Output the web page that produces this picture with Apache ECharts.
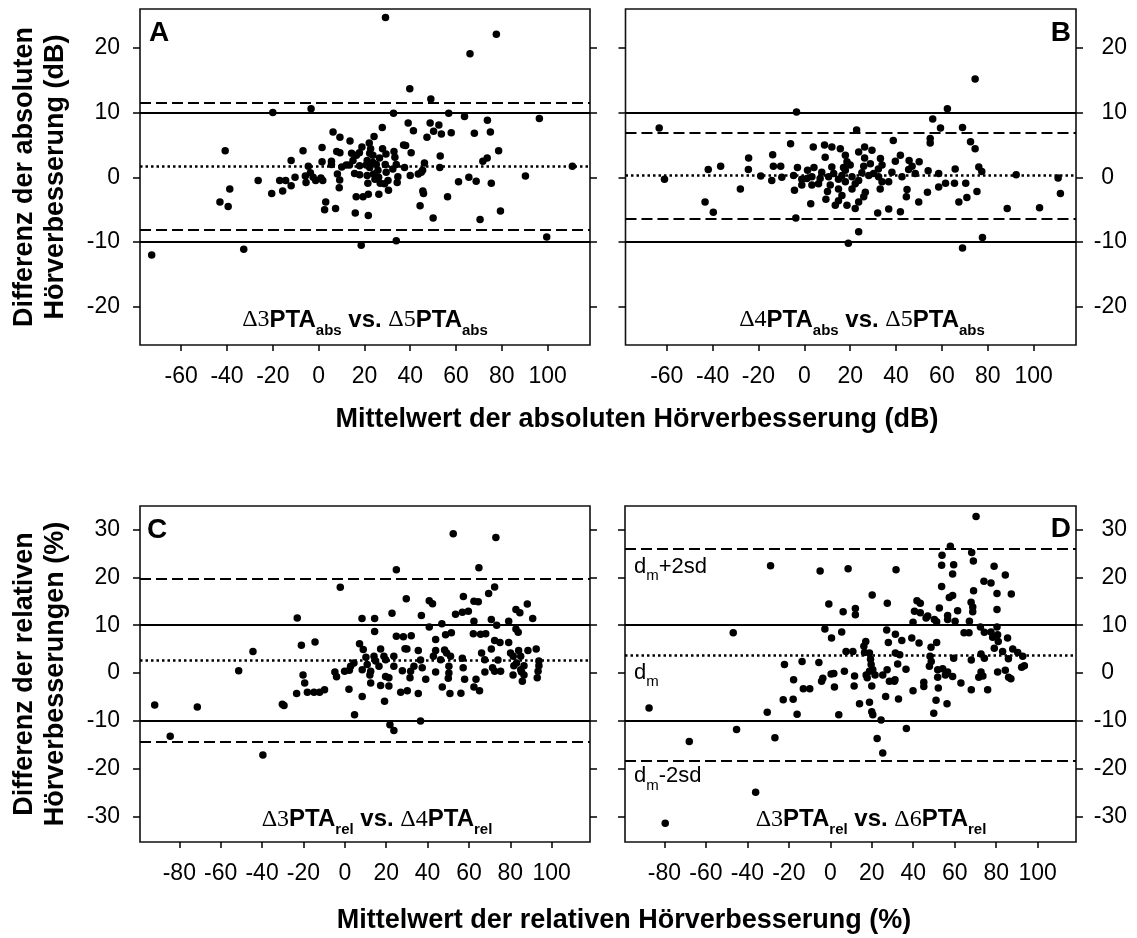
<!DOCTYPE html>
<html><head><meta charset="utf-8">
<script src="https://cdn.jsdelivr.net/npm/echarts@6/dist/echarts.min.js"></script>
<style>html,body{margin:0;padding:0;background:#fff}#c{width:1137px;height:938px}</style>
</head><body><div id="c"></div>
<script>
// ---- tick labels ----
const absXTicks = [-60, -40, -20, 0, 20, 40, 60, 80, 100];
const relXTicks = [-80, -60, -40, -20, 0, 20, 40, 60, 80, 100];
const absYTicks = [-20, -10, 0, 10, 20];
const relYTicks = [-30, -20, -10, 0, 10, 20, 30];

// ---- reference lines ----
const limitLines = [10, -10];
// [mean difference, mean + 2sd, mean - 2sd]
const statsA = [1.7, 11.5, -8.1];
const statsB = [0.26, 6.95, -6.4];
const statsC = [2.65, 19.8, -14.4];
const statsD = [3.77, 25.9, -18.4];

// ---- data: [mean, difference] ----
const pointsA = [[29.2,24.7],[77.6,22.1],[66.1,19.1],[39.8,13.7],[49.0,12.1],[-20.0,10.0],[-3.3,10.6],[32.7,9.9],[56.8,9.9],[63.7,9.4],[96.4,9.1],[39.1,8.4],[48.7,8.4],[52.5,8.1],[73.7,8.8],[27.8,7.7],[41.4,7.2],[50.2,7.1],[53.6,6.7],[57.9,6.9],[47.3,6.2],[68.0,6.8],[75.0,7.0],[6.3,7.0],[9.3,6.2],[13.7,5.6],[24.2,6.3],[1.5,4.6],[-6.8,4.1],[-40.8,4.1],[37.1,5.0],[38.0,4.9],[22.1,5.3],[18.9,4.7],[22.7,4.4],[27.9,4.4],[29.4,3.6],[32.9,4.0],[40.4,3.8],[7.9,4.0],[9.3,3.8],[14.4,3.7],[17.8,3.8],[78.6,4.1],[53.1,3.3],[33.3,3.1],[73.6,3.0],[71.7,2.5],[-12.0,2.6],[1.5,2.4],[5.6,2.5],[5.6,2.0],[13.5,1.9],[17.9,1.8],[20.8,1.9],[23.7,2.3],[25.2,2.0],[29.1,2.0],[33.9,2.0],[46.2,2.2],[110.8,1.7],[-4.5,1.7],[-3.6,0.7],[10.1,1.6],[22.3,1.5],[25.9,1.1],[37.5,1.5],[45.4,1.1],[52.9,1.5],[-10.3,0.0],[-5.8,0.2],[-2.4,0.0],[1.0,-0.1],[-26.4,-0.5],[-17.0,-0.5],[-14.4,-0.5],[-12.0,-1.3],[-15.7,-2.1],[-20.5,-2.5],[-5.5,-0.8],[-1.3,-0.5],[1.8,-0.5],[8.2,0.5],[9.2,-0.4],[9.0,-1.6],[15.7,0.6],[17.9,0.4],[21.2,0.3],[24.0,0.5],[26.2,0.0],[21.5,-0.9],[26.9,-0.9],[30.3,-0.5],[34.6,0.1],[34.3,-0.8],[40.0,0.3],[43.5,0.5],[44.8,0.8],[61.1,-0.7],[65.6,0.0],[68.8,-0.6],[75.4,-0.9],[90.3,0.2],[30.5,-2.0],[26.3,-2.6],[21.7,-2.6],[19.4,-3.0],[16.4,-3.0],[45.5,-2.1],[45.8,-2.5],[56.3,-3.0],[-38.8,-1.8],[-43.1,-3.8],[-39.5,-4.5],[3.1,-3.8],[2.6,-5.0],[7.4,-4.8],[16.0,-5.5],[21.7,-5.9],[44.3,-4.4],[50.0,-6.3],[70.5,-6.5],[79.4,-5.2],[99.6,-9.2],[18.6,-10.5],[33.9,-9.8],[-32.7,-11.1],[-72.9,-12.0],[16.5,3.4],[23.7,3.4],[26.6,3.0],[21.2,2.6],[32.4,1.3],[29.5,0.8],[24.6,-0.3],[28.8,-1.0],[15.0,2.6],[12.1,1.9],[22.3,3.7]];

const pointsB = [[74.5,15.2],[62.4,10.6],[-3.4,10.1],[56.0,9.0],[-63.3,7.6],[22.8,7.3],[59.4,7.6],[69.0,7.7],[54.9,6.0],[54.9,5.3],[72.5,5.5],[74.5,4.4],[38.8,5.7],[-6.0,5.2],[3.9,4.7],[8.8,5.0],[12.0,4.7],[15.7,4.4],[9.1,3.1],[-13.8,3.5],[-24.3,3.0],[23.7,3.9],[26.3,4.7],[29.5,4.2],[17.9,3.4],[18.6,2.4],[26.3,3.0],[33.2,2.9],[41.9,3.4],[45.7,2.6],[50.1,2.4],[39.7,2.5],[-36.5,1.7],[-41.9,1.2],[-24.4,1.2],[-13.5,1.7],[-10.3,1.7],[-3.0,1.5],[4.2,1.5],[1.4,1.1],[12.0,1.6],[17.1,1.5],[25.9,1.7],[32.3,1.3],[45.5,1.2],[47.0,1.7],[54.0,1.0],[65.8,1.3],[76.1,1.6],[77.4,0.9],[92.4,0.4],[110.7,-0.1],[111.7,-2.5],[-61.0,-0.3],[-19.0,0.2],[-14.2,-0.5],[-9.8,0.0],[-4.7,0.3],[-1.1,-0.3],[3.3,0.1],[6.9,-0.2],[10.6,0.1],[14.9,-0.3],[20.8,0.1],[23.7,-0.5],[28.1,0.3],[32.4,0.1],[36.8,-0.7],[42.6,0.1],[48.4,0.6],[58.6,0.6],[58.6,-1.5],[61.6,-0.9],[65.5,-0.9],[70.4,-0.9],[75.3,-2.2],[53.7,-2.3],[-4.3,-2.0],[-27.9,-1.8],[3.3,-1.2],[10.1,-2.2],[14.9,-1.8],[20.8,-1.8],[26.6,-2.3],[33.1,-1.8],[44.8,-1.9],[44.5,-3.0],[-43.3,-3.8],[-39.7,-5.4],[2.8,-4.1],[9.4,-3.4],[14.9,-3.6],[18.6,-4.3],[22.2,-4.8],[25.9,-3.0],[32.0,-5.5],[36.8,-4.9],[41.9,-5.3],[49.9,-3.8],[67.4,-3.8],[70.9,-3.1],[88.5,-4.8],[102.6,-4.7],[-3.7,-6.3],[23.7,-8.4],[19.2,-10.2],[77.7,-9.3],[69.0,-10.9],[7.6,0.8],[12.8,0.6],[16.4,0.3],[17.9,-0.7],[22.2,-1.0],[25.1,0.7],[30.2,0.6],[33.9,-0.7],[38.2,0.8],[11.3,-1.2],[6.2,-1.0],[1.1,-0.2],[20.0,1.9],[17.9,1.1],[28.8,2.1],[33.9,1.9],[16.4,-2.8],[23.7,-3.8],[13.5,-4.3],[-1.1,-1.2]];

const pointsC = [[52.4,29.1],[73.0,28.3],[24.9,21.6],[64.8,22.0],[-2.2,17.9],[72.4,18.0],[69.5,16.6],[29.7,15.5],[40.8,15.1],[42.4,14.5],[57.3,16.0],[62.4,15.0],[64.5,14.9],[88.2,14.4],[82.7,13.3],[84.6,12.6],[-23.0,11.5],[8.3,11.4],[14.4,11.4],[22.8,12.5],[37.0,12.0],[53.5,12.3],[56.8,12.7],[59.7,12.9],[90.8,11.4],[70.8,11.2],[62.4,10.8],[79.2,10.8],[40.8,9.6],[46.9,10.3],[73.4,10.0],[14.4,8.7],[24.9,7.7],[28.3,7.6],[32.1,7.8],[48.7,8.0],[51.5,8.4],[62.1,8.2],[65.6,8.1],[68.1,8.2],[83.8,8.5],[82.7,9.2],[43.9,7.0],[72.4,6.8],[75.0,6.4],[79.2,6.4],[-21.0,5.8],[-14.4,6.5],[-44.4,4.5],[7.1,6.1],[17.3,5.0],[29.1,5.1],[30.0,5.0],[35.5,4.7],[43.9,4.7],[48.2,4.8],[49.2,4.2],[66.1,4.2],[70.8,5.0],[84.0,4.7],[88.5,4.7],[92.5,5.0],[8.9,4.9],[10.2,3.3],[14.1,3.5],[18.9,3.5],[23.7,3.5],[14.9,2.5],[19.7,2.8],[36.6,2.7],[42.8,3.5],[46.3,2.8],[51.1,3.5],[56.8,3.1],[67.6,2.8],[74.0,2.7],[81.4,3.5],[85.0,3.5],[93.8,2.5],[4.4,2.1],[2.8,1.4],[10.8,1.8],[16.5,1.4],[23.7,1.4],[33.4,1.4],[37.4,1.1],[50.3,1.4],[57.2,1.1],[71.4,1.1],[81.7,1.5],[86.6,1.5],[93.8,1.5],[-51.3,0.5],[-4.8,0.2],[-0.1,0.4],[2.2,0.6],[8.4,0.7],[12.5,0.4],[27.8,0.5],[31.8,0.4],[43.9,0.2],[50.3,0.0],[67.7,0.2],[72.4,0.4],[75.3,0.4],[85.4,0.2],[93.4,0.4],[-20.2,-0.4],[-4.0,-0.8],[12.1,-0.4],[19.7,-0.7],[21.3,-1.0],[31.5,-1.0],[39.1,-1.3],[50.0,-1.1],[57.9,-1.3],[63.4,-1.3],[81.3,-0.4],[85.8,-1.7],[93.0,-1.0],[-19.4,-2.1],[-18.1,-4.0],[-14.9,-4.0],[-12.2,-4.0],[-9.8,-3.5],[-23.3,-4.3],[2.0,-3.4],[12.5,-2.1],[17.3,-2.6],[21.3,-2.7],[30.2,-3.7],[27.0,-4.0],[35.5,-4.3],[47.1,-2.9],[50.8,-4.3],[56.1,-4.2],[62.4,-2.9],[65.1,-3.7],[8.4,-4.9],[19.2,-5.9],[-30.2,-6.5],[-29.4,-6.8],[-91.9,-6.7],[-71.3,-7.1],[4.7,-8.7],[36.6,-10.0],[21.8,-10.8],[23.7,-12.0],[-84.4,-13.2],[-39.6,-17.1],[83.0,2.1],[85.0,0.7],[86.6,-0.4],[80.1,4.2]];

const pointsD = [[70.3,32.7],[57.9,26.5],[68.2,25.2],[53.9,24.6],[69.0,23.4],[-28.8,22.4],[-4.9,21.3],[8.6,21.8],[31.7,21.6],[53.7,22.5],[59.5,22.6],[59.0,20.7],[79.0,22.3],[84.4,20.5],[74.1,19.2],[77.5,18.8],[53.7,18.1],[59.0,16.2],[69.1,17.2],[80.4,16.6],[87.3,16.5],[20.2,16.3],[57.4,15.8],[-0.7,14.4],[27.5,14.6],[41.8,15.1],[43.4,14.6],[52.6,13.6],[67.9,14.8],[68.7,13.8],[68.7,12.8],[61.4,13.0],[80.4,13.3],[6.2,12.8],[12.1,13.5],[12.1,12.2],[40.6,12.9],[43.4,12.6],[47.0,11.9],[50.2,11.2],[51.3,10.7],[56.6,12.0],[56.6,11.2],[60.2,10.8],[67.1,10.8],[39.9,10.6],[46.2,11.5],[-2.6,9.2],[-46.8,8.4],[5.5,8.6],[0.6,7.3],[27.2,9.0],[31.4,8.1],[34.5,6.8],[39.3,7.3],[42.8,6.3],[51.3,6.4],[28.0,6.4],[64.5,8.4],[66.9,8.4],[72.4,9.6],[74.3,8.5],[77.5,8.6],[80.4,9.6],[80.7,8.0],[78.3,7.5],[81.0,6.6],[85.5,7.3],[79.1,5.2],[83.1,4.5],[88.0,5.0],[90.4,4.3],[92.8,3.5],[85.9,3.0],[92.3,1.2],[93.6,1.5],[17.1,6.6],[16.2,5.6],[16.5,4.3],[7.6,4.5],[10.9,4.5],[18.9,4.2],[31.4,4.2],[33.5,3.8],[48.6,5.4],[48.1,3.5],[48.7,2.4],[59.5,3.1],[68.0,2.7],[72.7,4.0],[74.3,3.1],[19.4,2.9],[19.7,1.8],[18.9,0.4],[-22.1,1.8],[-13.6,2.4],[-5.5,2.2],[32.5,1.9],[36.5,0.8],[51.8,0.7],[54.2,0.9],[56.6,0.2],[47.8,1.4],[72.7,0.2],[73.6,-0.6],[84.4,0.6],[80.7,0.2],[86.0,-0.9],[87.1,-1.2],[71.6,-0.9],[-3.6,-1.1],[-4.2,-1.7],[0.4,-0.2],[1.7,-0.1],[6.8,0.4],[11.7,-0.6],[17.3,-0.4],[17.8,-1.0],[20.5,0.7],[21.6,-0.4],[27.4,0.7],[25.3,-0.4],[31.2,-1.4],[30.9,-1.7],[28.5,-1.7],[45.1,-1.9],[51.8,-0.9],[55.5,-0.4],[59.0,-0.7],[63.0,-2.1],[68.0,-3.5],[75.9,-3.5],[-17.7,-1.4],[-13.0,-3.3],[-9.9,-3.3],[2.0,-2.9],[11.5,-2.7],[20.0,-2.7],[39.9,-3.7],[45.1,-2.8],[52.1,-3.1],[26.7,-4.9],[32.9,-5.4],[-22.7,-5.6],[-17.9,-5.5],[14.1,-6.4],[18.9,-6.1],[51.0,-5.7],[56.3,-6.4],[-30.4,-8.2],[-16.0,-8.6],[4.1,-8.7],[20.0,-8.1],[20.5,-8.7],[49.9,-8.4],[-87.4,-7.3],[24.5,-9.8],[-45.2,-11.8],[-26.7,-13.5],[-68.0,-14.3],[36.7,-11.6],[22.6,-13.7],[25.3,-16.7],[-36.0,-24.9],[-79.6,-31.4]];

// ---- chart ----
const FONT = 'Liberation Sans';
const BLACK = '#000';
const grids = [
  {left: 140, top: 9, width: 450, height: 336},
  {left: 625.5, top: 9, width: 450.5, height: 336},
  {left: 140, top: 506, width: 450, height: 336},
  {left: 625, top: 506, width: 451, height: 336}
].map(g => Object.assign(g, {show: true, borderColor: '#111', borderWidth: 1.6, backgroundColor: 'transparent'}));

const panels = [
  {pts: pointsA, stats: statsA, xt: absXTicks, yt: absYTicks, xr: [-78, 118.5], yr: [-25.9, 26], labelSide: 'left'},
  {pts: pointsB, stats: statsB, xt: absXTicks, yt: absYTicks, xr: [-78, 118.5], yr: [-25.9, 26], labelSide: 'right'},
  {pts: pointsC, stats: statsC, xt: relXTicks, yt: relYTicks, xr: [-99, 118.5], yr: [-35.3, 34.9], labelSide: 'left'},
  {pts: pointsD, stats: statsD, xt: relXTicks, yt: relYTicks, xr: [-99, 118.5], yr: [-35.3, 34.9], labelSide: 'right'}
];

const tickStyle = {color: BLACK, width: 1.5};
const labelBase = {color: BLACK, fontSize: 23, fontFamily: FONT};

const xAxes = panels.map((p, i) => ({
  gridIndex: i, type: 'value', position: 'bottom', min: p.xr[0], max: p.xr[1],
  axisLine: {show: false, onZero: false}, splitLine: {show: false},
  axisTick: {show: true, length: 6, customValues: p.xt, lineStyle: tickStyle},
  axisLabel: Object.assign({customValues: p.xt, margin: 20}, labelBase)
}));

const yAxes = [];
panels.forEach((p, i) => {
  ['left', 'right'].forEach(side => {
    const showLab = side === p.labelSide;
    const lab = Object.assign({show: showLab, customValues: p.yt}, labelBase);
    if (side === 'left') {
      lab.margin = 20;
    } else {
      lab.margin = 51; lab.align = 'right';
      lab.formatter = v => (v === 0 ? '{z|0}' : String(v));
      lab.rich = {z: {fontSize: 23, fontFamily: FONT, color: BLACK, padding: [0, 13, 0, 0]}};
    }
    yAxes.push({
      gridIndex: i, type: 'value', position: side, min: p.yr[0], max: p.yr[1],
      axisLine: {show: false, onZero: false}, splitLine: {show: false},
      axisTick: {show: true, length: 7, customValues: p.yt, lineStyle: tickStyle},
      axisLabel: lab
    });
  });
});

const series = panels.map((p, i) => ({
  type: 'scatter', xAxisIndex: i, yAxisIndex: 2 * i, data: p.pts,
  symbol: 'circle', symbolSize: 7.5, itemStyle: {color: BLACK, opacity: 1},
  silent: true,
  markLine: {
    silent: true, symbol: ['none', 'none'], label: {show: false}, animation: false,
    data: [
      {yAxis: limitLines[0], lineStyle: {type: 'solid', width: 1.8, color: BLACK}},
      {yAxis: limitLines[1], lineStyle: {type: 'solid', width: 1.8, color: BLACK}},
      {yAxis: p.stats[1], lineStyle: {type: [11, 5], width: 2, color: BLACK}},
      {yAxis: p.stats[2], lineStyle: {type: [11, 5], width: 2, color: BLACK}},
      {yAxis: p.stats[0], lineStyle: {type: [2.5, 3], width: 2.5, color: BLACK}}
    ]
  }
}));

const annRich = {
  d: {fontFamily: 'Liberation Serif', fontSize: 24, fontWeight: 'normal', lineHeight: 36, color: BLACK},
  b: {fontFamily: FONT, fontSize: 24, fontWeight: 'bold', lineHeight: 36, color: BLACK},
  s: {fontFamily: FONT, fontSize: 15, fontWeight: 'bold', lineHeight: 15, verticalAlign: 'bottom', color: BLACK}
};
function ann(txt, x, y) {
  return {type: 'text', x: x, y: y, silent: true,
    style: {text: txt, rich: annRich, align: 'center', verticalAlign: 'middle', fill: BLACK}};
}
const dmRich = {
  a: {fontFamily: FONT, fontSize: 22, lineHeight: 34, color: BLACK},
  m: {fontFamily: FONT, fontSize: 15, lineHeight: 15, verticalAlign: 'bottom', color: BLACK}
};
function dm(txt, x, y) {
  return {type: 'text', x: x, y: y, silent: true,
    style: {text: txt, rich: dmRich, align: 'left', verticalAlign: 'middle', fill: BLACK}};
}
function letter(t, x, y, align) {
  return {type: 'text', x: x, y: y, silent: true,
    style: {text: t, font: 'bold 28px "Liberation Sans"', align: align, verticalAlign: 'middle', fill: BLACK}};
}
function title(t, x, y, rot) {
  return {type: 'text', x: x, y: y, rotation: rot || 0, silent: true,
    style: {text: t, font: 'bold 27px "Liberation Sans"', lineHeight: 31, align: 'center', verticalAlign: 'middle', fill: BLACK}};
}

const graphic = [
  title('Differenz der absoluten\nHörverbesserung (dB)', 40, 177, Math.PI / 2),
  title('Differenz der relativen\nHörverbesserungen (%)', 40, 674, Math.PI / 2),
  title('Mittelwert der absoluten Hörverbesserung (dB)', 637, 420),
  title('Mittelwert der relativen Hörverbesserung (%)', 624, 921),
  letter('A', 149, 33, 'left'),
  letter('B', 1071, 33, 'right'),
  letter('C', 147, 530, 'left'),
  letter('D', 1071, 529, 'right'),
  ann('{d|Δ3}{b|PTA}{s|abs}{b| vs. }{d|Δ5}{b|PTA}{s|abs}', 365, 320),
  ann('{d|Δ4}{b|PTA}{s|abs}{b| vs. }{d|Δ5}{b|PTA}{s|abs}', 862, 320),
  ann('{d|Δ3}{b|PTA}{s|rel}{b| vs. }{d|Δ4}{b|PTA}{s|rel}', 377, 819.5),
  ann('{d|Δ3}{b|PTA}{s|rel}{b| vs. }{d|Δ6}{b|PTA}{s|rel}', 871, 819.5),
  dm('{a|d}{m|m}{a|+2sd}', 634, 566.5),
  dm('{a|d}{m|m}', 634, 672.5),
  dm('{a|d}{m|m}{a|-2sd}', 634, 776)
];

const chart = echarts.init(document.getElementById('c'), null, {renderer: 'canvas'});
chart.setOption({
  animation: false,
  backgroundColor: '#fff',
  grid: grids,
  xAxis: xAxes,
  yAxis: yAxes,
  series: series,
  graphic: graphic
});
</script>
</body></html>
